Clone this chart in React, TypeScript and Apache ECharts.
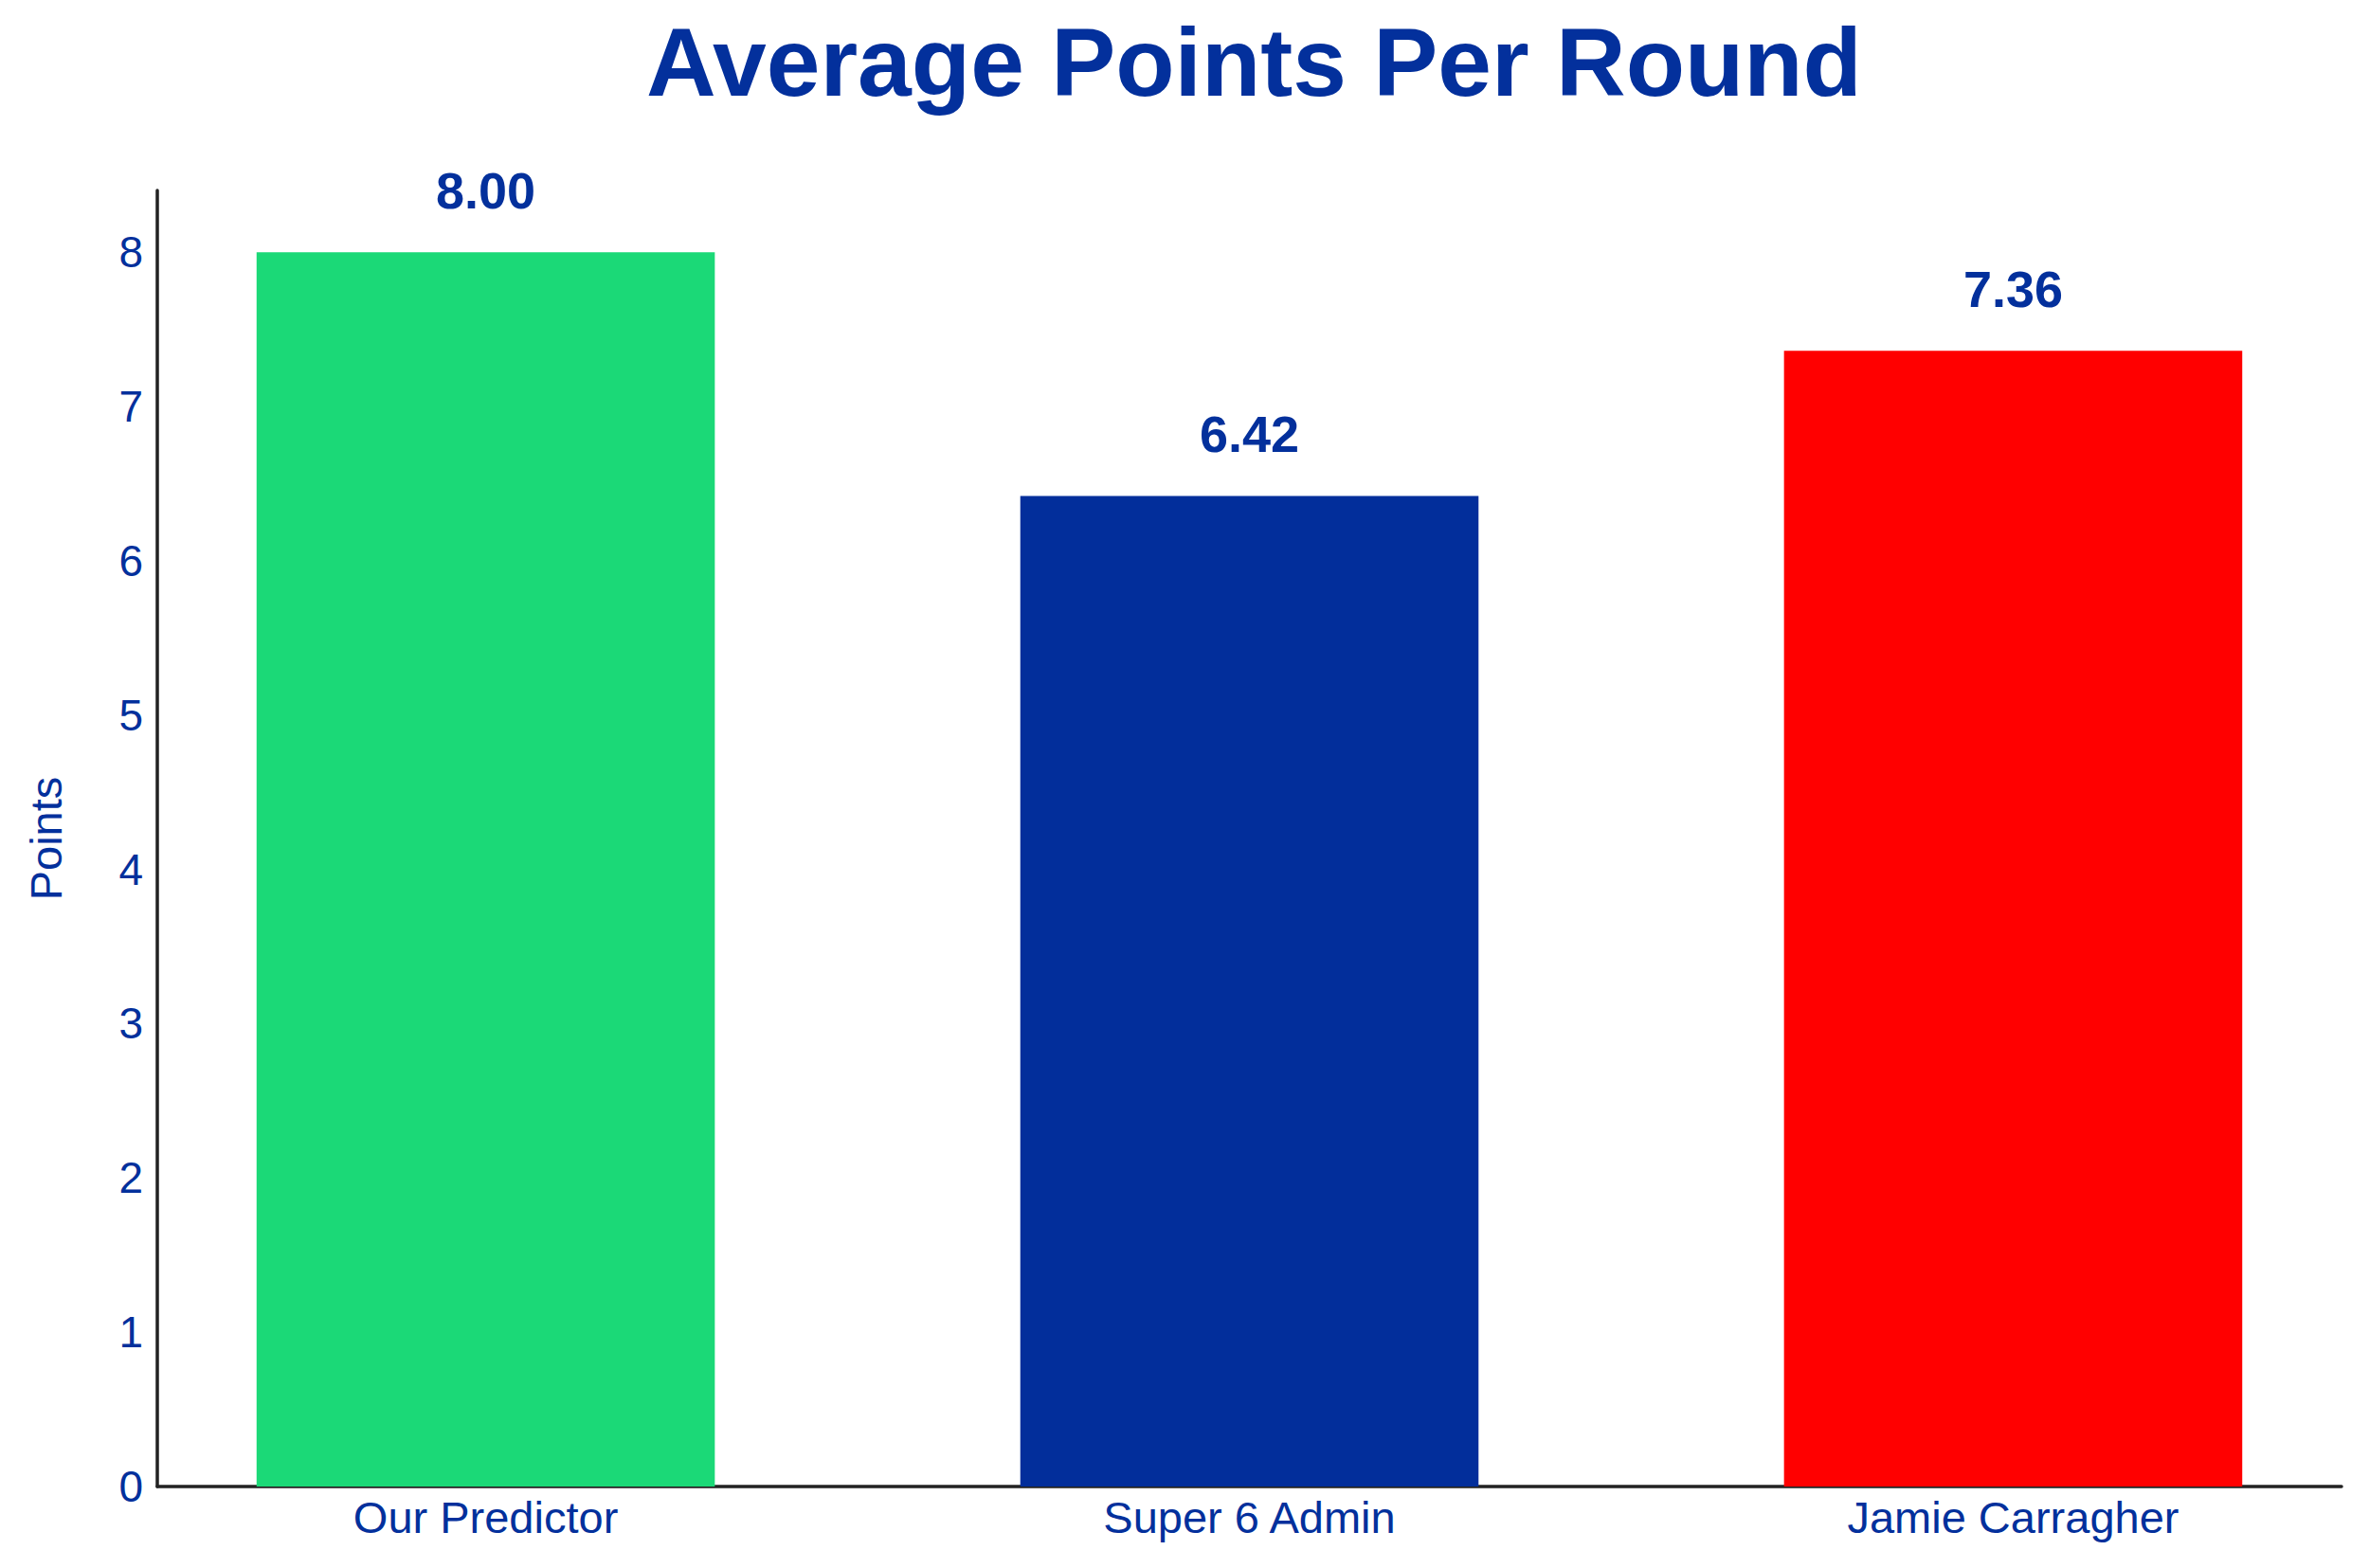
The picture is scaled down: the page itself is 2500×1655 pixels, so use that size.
import React, { useEffect, useRef } from "react";
import * as echarts from "echarts";

const categories = ["Our Predictor", "Super 6 Admin", "Jamie Carragher"];
const values = [8.0, 6.42, 7.36];
const barColors = ["#1BD977", "#022E9B", "#FF0000"];
const yTicks = [0, 1, 2, 3, 4, 5, 6, 7, 8];

const W = 2500;
const H = 1655;
const TEXT = "#03309C";
const FONT = "'Liberation Sans', Arial, sans-serif";

export default function App() {
  const ref = useRef<HTMLDivElement>(null);
  useEffect(() => {
    document.body.style.margin = "0";
    if (!ref.current) return;
    const chart = echarts.init(ref.current, null, { renderer: "svg" });
    const gridLeft = 166;
    const gridRight = 29;
    const gridW = W - gridLeft - gridRight;
    const xMin = -0.43;
    const xMax = 2.43;
    const barW = (0.6 * gridW) / (xMax - xMin);
    chart.setOption({
      animation: false,
      backgroundColor: "#ffffff",
      textStyle: { fontFamily: FONT },
      title: {
        text: "Average Points Per Round",
        left: gridLeft + gridW / 2,
        textAlign: "center",
        top: 10,
        textStyle: { color: TEXT, fontSize: 102, fontWeight: "bold", fontFamily: FONT },
      },
      grid: { left: gridLeft, right: gridRight, top: 201, bottom: 86, containLabel: false },
      xAxis: {
        type: "value",
        min: xMin,
        max: xMax,
        axisLine: { show: true, onZero: false, lineStyle: { color: "#222222", width: 3.5 } },
        axisTick: { show: false },
        splitLine: { show: false },
        axisLabel: {
          customValues: categories.map((_, i) => i),
          formatter: (v: number) => categories[Math.round(v)] ?? "",
          color: TEXT,
          fontSize: 47,
          margin: 9,
          fontFamily: FONT,
        },
      },
      yAxis: {
        type: "value",
        min: 0,
        max: 8.4,
        interval: 1,
        name: "Points",
        nameLocation: "middle",
        nameGap: 94,
        nameTextStyle: { color: TEXT, fontSize: 47, fontFamily: FONT },
        axisLine: { show: true, onZero: false, lineStyle: { color: "#222222", width: 3.5 } },
        axisTick: { show: false },
        splitLine: { show: false },
        axisLabel: {
          customValues: yTicks,
          color: TEXT,
          fontSize: 46,
          margin: 15,
          fontFamily: FONT,
        },
      },
      series: [
        {
          type: "bar",
          barWidth: barW,
          data: values.map((v, i) => ({
            value: [i, v],
            itemStyle: { color: barColors[i] },
          })),
          label: {
            show: true,
            position: "top",
            distance: 38,
            formatter: (p: any) => Number(p.value[1]).toFixed(2),
            color: TEXT,
            fontSize: 54,
            fontWeight: "bold",
            fontFamily: FONT,
          },
        },
      ],
    });
    return () => chart.dispose();
  }, []);
  return <div ref={ref} style={{ width: W, height: H }} />;
}
